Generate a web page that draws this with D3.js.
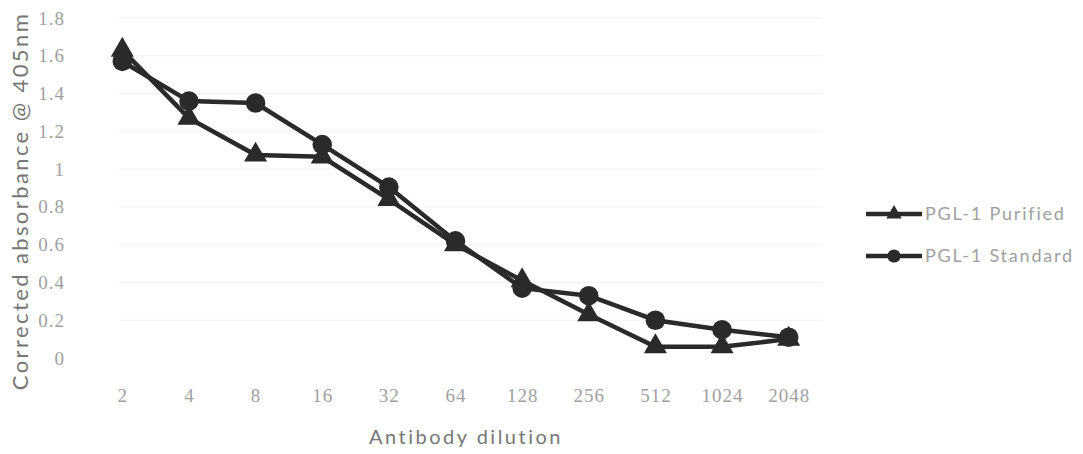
<!DOCTYPE html>
<html>
<head>
<meta charset="utf-8">
<script src="https://cdn.jsdelivr.net/npm/d3@7"></script>
<style>
  body { margin: 0; background: #fff; }
  svg text { font-family: Lato, "Open Sans", sans-serif; }
</style>
</head>
<body>
<div id="chart"></div>
<script>
const dilutions = ["2", "4", "8", "16", "32", "64", "128", "256", "512", "1024", "2048"];
const purified = [1.63, 1.27, 1.075, 1.065, 0.84, 0.60, 0.41, 0.23, 0.06, 0.06, 0.10];
const standard = [1.57, 1.36, 1.35, 1.13, 0.905, 0.62, 0.37, 0.33, 0.20, 0.15, 0.11];
const yTicks = [0, 0.2, 0.4, 0.6, 0.8, 1, 1.2, 1.4, 1.6, 1.8];

const width = 1083, height = 454;
const margin = { top: 18, left: 89, right: 261, bottom: 96 };

const svg = d3.select("#chart").append("svg")
  .attr("width", width)
  .attr("height", height);

const x = d3.scalePoint()
  .domain(dilutions)
  .range([margin.left, width - margin.right])
  .padding(0.5);

const y = d3.scaleLinear()
  .domain([0, 1.8])
  .range([height - margin.bottom, margin.top]);

// faint grid lines
svg.append("g")
  .selectAll("line")
  .data(yTicks.slice(1))
  .join("line")
  .attr("x1", margin.left + 30)
  .attr("x2", width - margin.right)
  .attr("y1", d => y(d))
  .attr("y2", d => y(d))
  .attr("stroke", "#f2f2f2")
  .attr("stroke-width", 1);

// y axis labels
const yAxis = svg.append("g")
  .attr("transform", `translate(${margin.left - 21},0)`)
  .call(d3.axisLeft(y).tickValues(yTicks).tickSize(0).tickFormat(d => d3.format("~g")(d)));
yAxis.select(".domain").remove();
yAxis.selectAll("text")
  .attr("fill", "#a0a0a0")
  .style("font-family", "'Liberation Serif', serif")
  .style("font-size", "19px")
  .style("letter-spacing", "1px");

// x axis labels
const xAxis = svg.append("g")
  .attr("transform", `translate(0,${height - margin.bottom + 27})`)
  .call(d3.axisBottom(x).tickSize(0));
xAxis.select(".domain").remove();
xAxis.selectAll("text")
  .attr("fill", "#a0a0a0")
  .style("font-family", "'Liberation Serif', serif")
  .style("font-size", "19px")
  .style("letter-spacing", "1px");

svg.append("text")
  .attr("x", 466)
  .attr("y", 444)
  .attr("text-anchor", "middle")
  .attr("fill", "#777")
  .style("font-size", "20px")
  .style("letter-spacing", "2.5px")
  .text("Antibody dilution");

svg.append("text")
  .attr("transform", `translate(28,201) rotate(-90)`)
  .attr("text-anchor", "middle")
  .attr("fill", "#777")
  .style("font-size", "22px")
  .style("letter-spacing", "2.4px")
  .text("Corrected absorbance @ 405nm");

const line = d3.line()
  .x((d, i) => x(dilutions[i]))
  .y(d => y(d));

const series = [
  { name: "PGL-1 Purified", values: purified, symbol: d3.symbolTriangle, size: 230 },
  { name: "PGL-1 Standard", values: standard, symbol: d3.symbolCircle, size: 300 }
];

series.forEach(s => {
  svg.append("path")
    .datum(s.values)
    .attr("d", line)
    .attr("fill", "none")
    .attr("stroke", "#2a2a2a")
    .attr("stroke-width", 4.5);
});

series.forEach(s => {
  svg.append("g")
    .selectAll("path")
    .data(s.values)
    .join("path")
    .attr("transform", (d, i) => `translate(${x(dilutions[i])},${y(d)})`)
    .attr("d", d3.symbol().type(s.symbol).size(s.size))
    .attr("fill", "#2a2a2a");
});

// legend
const legend = svg.append("g")
  .selectAll("g")
  .data(series)
  .join("g")
  .attr("transform", (d, i) => `translate(866,${214 + i * 42})`);

legend.append("line")
  .attr("x1", 0).attr("x2", 56)
  .attr("stroke", "#2a2a2a")
  .attr("stroke-width", 4.5);

legend.append("path")
  .attr("transform", "translate(28,0)")
  .attr("d", d => d3.symbol().type(d.symbol).size(d.size * 0.45)())
  .attr("fill", "#2a2a2a");

legend.append("text")
  .attr("x", 59)
  .attr("dy", "0.35em")
  .attr("fill", "#a0a0a0")
  .style("font-size", "18px")
  .style("letter-spacing", "1.8px")
  .text(d => d.name);
</script>
</body>
</html>
